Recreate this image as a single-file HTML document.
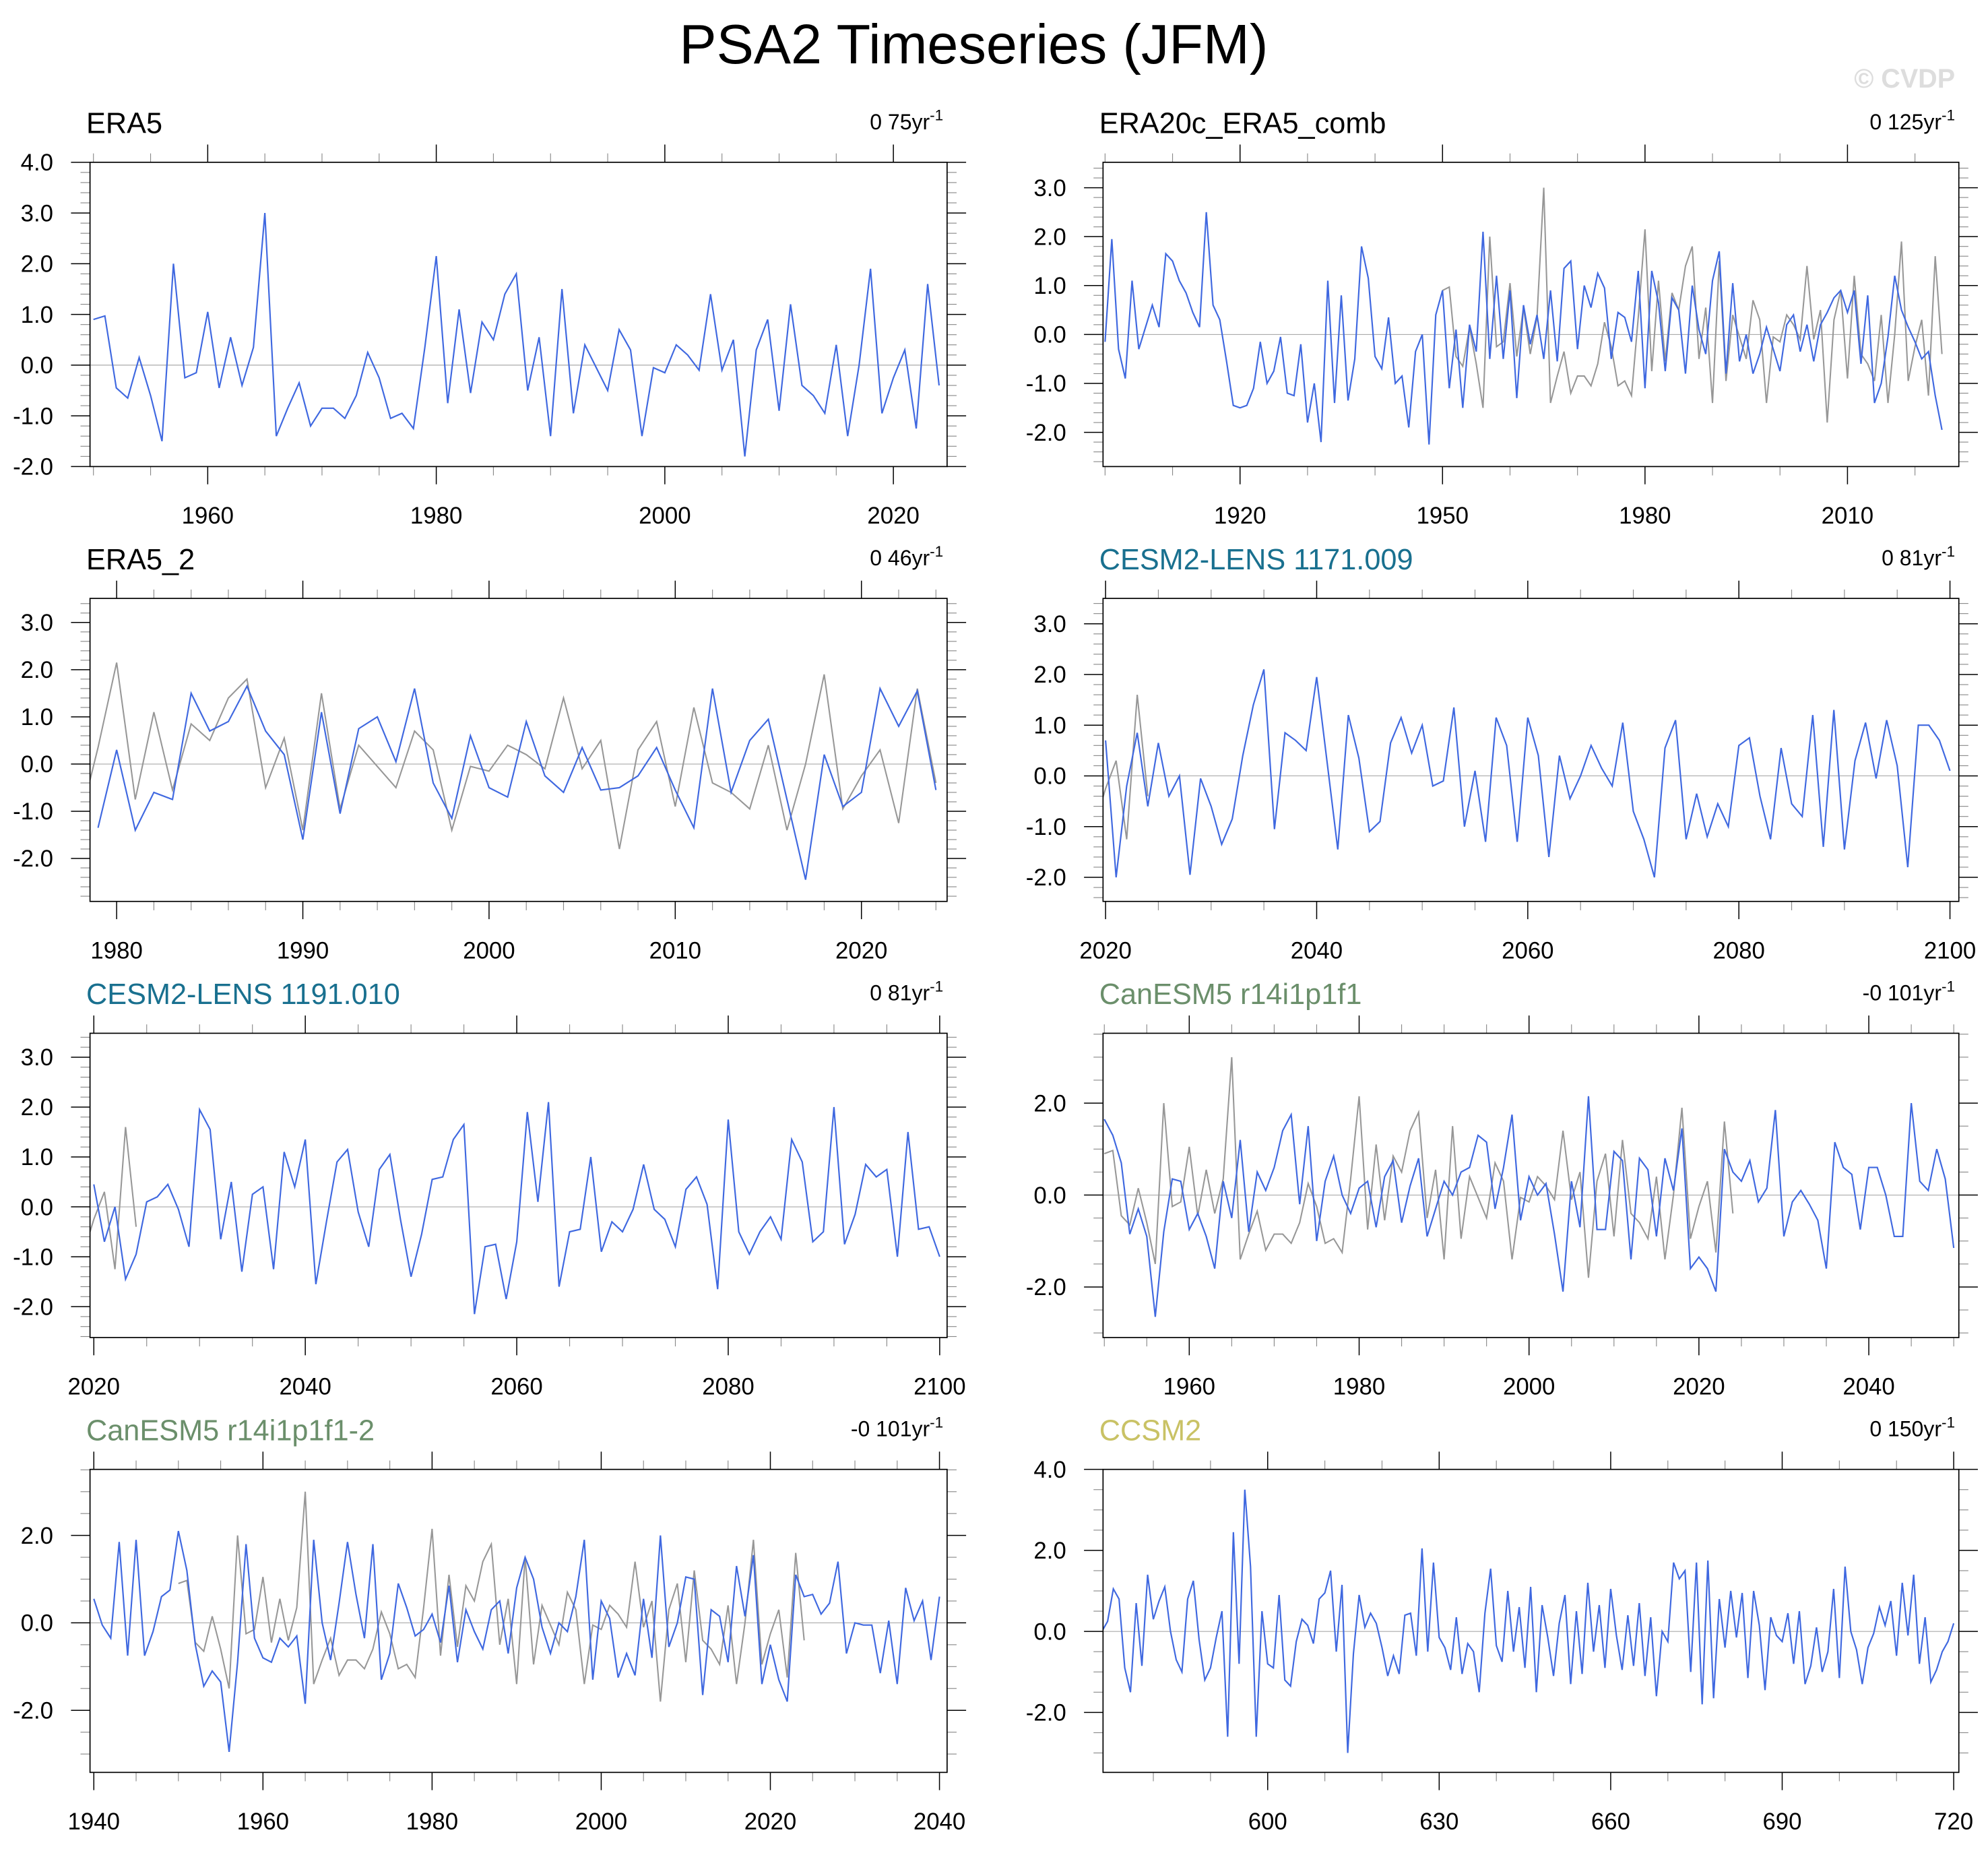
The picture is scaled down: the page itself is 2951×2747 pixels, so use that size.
<!DOCTYPE html>
<html><head><meta charset="utf-8">
<style>
html,body{margin:0;padding:0;background:#fff;}
svg{display:block;font-family:"Liberation Sans",Arial,sans-serif;}
</style></head>
<body>
<svg id="chart" xmlns="http://www.w3.org/2000/svg" width="2951" height="2747" viewBox="0 0 1568 1460" preserveAspectRatio="none">
<rect x="0" y="0" width="1568" height="1460" fill="#fff"/>
<text x="768" y="50" font-size="44" text-anchor="middle" fill="#000">PSA2 Timeseries (JFM)</text>
<text x="1542" y="69" font-size="21" font-weight="bold" text-anchor="end" fill="#ddd">© CVDP</text>
</svg>
<script>
// ---- data ----
const era5Start = 1950;
const era5 = [0.9,0.97,-0.45,-0.65,0.15,-0.6,-1.5,2.0,-0.25,-0.15,
1.05,-0.45,0.55,-0.4,0.35,3.0,-1.4,-0.85,-0.35,-1.2,
-0.85,-0.85,-1.05,-0.6,0.25,-0.25,-1.05,-0.95,-1.25,0.35,
2.15,-0.75,1.1,-0.55,0.85,0.5,1.4,1.8,-0.5,0.55,
-1.4,1.5,-0.95,0.4,-0.05,-0.5,0.7,0.3,-1.4,-0.05,
-0.15,0.4,0.2,-0.1,1.4,-0.1,0.5,-1.8,0.3,0.9,
-0.9,1.2,-0.4,-0.6,-0.95,0.4,-1.4,0.0,1.9,-0.95,
-0.25,0.3,-1.25,1.6,-0.4];

const era20cStart = 1900;
const era20c = [-0.15,1.95,-0.3,-0.9,1.1,-0.3,0.15,0.6,0.15,1.65,
1.5,1.1,0.85,0.45,0.15,2.5,0.6,0.3,-0.55,-1.45,
-1.5,-1.45,-1.1,-0.15,-1.0,-0.75,-0.05,-1.2,-1.25,-0.2,
-1.8,-1.0,-2.2,1.1,-1.4,0.8,-1.35,-0.5,1.8,1.15,
-0.45,-0.7,0.35,-1.0,-0.85,-1.9,-0.35,0.0,-2.25,0.4,
0.9,-1.1,0.1,-1.5,0.2,-0.35,2.1,-0.5,1.2,-0.5,
0.9,-1.3,0.6,-0.2,0.4,-0.5,0.9,-0.55,1.35,1.5,
-0.3,1.0,0.55,1.25,0.95,-0.5,0.45,0.35,-0.15,1.3,
-1.1,1.3,0.65,-0.75,0.75,0.5,-0.8,1.0,0.1,-0.4,
1.1,1.7,-0.8,1.05,-0.55,0.0,-0.8,-0.4,0.15,-0.3,
-0.75,0.2,0.4,-0.35,0.2,-0.55,0.2,0.45,0.75,0.9,
0.45,0.9,-0.6,0.8,-1.4,-1.0,-0.05,1.2,0.5,0.15,
-0.15,-0.5,-0.35,-1.25,-1.95];

const era5bStart = 1979;
const era5b = [-1.35,0.3,-1.4,-0.6,-0.75,1.5,0.7,0.9,1.65,0.7,
0.2,-1.6,1.1,-1.05,0.75,1.0,0.05,1.6,-0.4,-1.15,
0.6,-0.5,-0.7,0.9,-0.25,-0.6,0.35,-0.55,-0.5,-0.25,
0.35,-0.55,-1.35,1.6,-0.6,0.5,0.95,-0.75,-2.45,0.2,
-0.9,-0.6,1.6,0.8,1.55,-0.55];

const cesm009Start = 2020;
const cesm009 = [0.7,-2.0,-0.2,0.85,-0.6,0.65,-0.4,0.0,-1.95,-0.05,
-0.6,-1.35,-0.85,0.4,1.4,2.1,-1.05,0.85,0.7,0.5,
1.95,0.25,-1.45,1.2,0.35,-1.1,-0.9,0.65,1.15,0.45,
1.0,-0.2,-0.1,1.35,-1.0,0.1,-1.3,1.15,0.6,-1.3,
1.15,0.4,-1.6,0.4,-0.45,0.0,0.6,0.15,-0.2,1.05,
-0.7,-1.25,-2.0,0.55,1.1,-1.25,-0.35,-1.2,-0.55,-1.0,
0.6,0.75,-0.4,-1.25,0.55,-0.55,-0.8,1.2,-1.4,1.3,
-1.45,0.3,1.05,-0.05,1.1,0.2,-1.8,1.0,1.0,0.7,0.1];

const cesm010Start = 2020;
const cesm010 = [0.45,-0.7,0.0,-1.45,-0.95,0.1,0.2,0.45,-0.05,-0.8,
1.95,1.55,-0.65,0.5,-1.3,0.25,0.4,-1.25,1.1,0.4,
1.35,-1.55,-0.3,0.9,1.15,-0.1,-0.8,0.75,1.05,-0.25,
-1.4,-0.55,0.55,0.6,1.35,1.65,-2.15,-0.8,-0.75,-1.85,
-0.7,1.9,0.1,2.1,-1.6,-0.5,-0.45,1.0,-0.9,-0.3,
-0.5,-0.05,0.85,-0.05,-0.25,-0.8,0.35,0.6,0.05,-1.65,
1.75,-0.5,-0.95,-0.5,-0.2,-0.65,1.35,0.9,-0.7,-0.5,
2.0,-0.75,-0.15,0.85,0.6,0.75,-1.0,1.5,-0.45,-0.4,-1.0];

const canesmStart = 1950;
const canesm = [1.65,1.3,0.7,-0.85,-0.3,-0.9,-2.65,-0.8,0.35,0.3,
-0.75,-0.4,-0.9,-1.6,0.3,-0.5,1.2,-0.8,0.5,0.1,
0.6,1.4,1.75,-0.2,1.5,-1.0,0.3,0.85,0.0,-0.4,
0.15,0.3,-0.7,0.4,0.75,-0.6,0.2,0.8,-0.9,-0.3,
0.3,0.0,0.5,0.6,1.3,1.15,-0.3,0.6,1.75,-0.55,
0.4,0.0,0.25,-0.85,-2.1,0.3,-0.7,2.15,-0.75,-0.75,
0.95,0.75,-1.4,0.8,0.55,-0.9,0.8,0.1,1.45,-1.6,
-1.35,-1.6,-2.1,1.0,0.5,0.3,0.75,-0.15,0.15,1.85,
-0.9,-0.15,0.1,-0.2,-0.55,-1.6,1.15,0.6,0.45,-0.75,
0.6,0.6,0.0,-0.9,-0.9,2.0,0.3,0.1,1.0,0.35,-1.15];

const canesm2Start = 1940;
const canesm2 = [0.55,-0.05,-0.35,1.85,-0.75,1.9,-0.75,-0.2,0.6,0.75,
2.1,1.2,-0.5,-1.45,-1.1,-1.35,-2.95,-0.9,1.8,-0.35,
-0.8,-0.9,-0.35,-0.55,-0.3,-1.85,1.9,0.0,-0.85,0.45,
1.85,0.65,-0.35,1.8,-1.3,-0.7,0.9,0.35,-0.3,-0.15,
0.2,-0.45,0.85,-0.9,0.3,-0.2,-0.6,0.3,0.5,-0.7,
0.8,1.5,1.0,-0.1,-0.7,0.0,-0.2,0.6,1.9,-1.3,
0.5,0.1,-1.25,-0.7,-1.2,0.55,-0.8,2.0,-0.55,0.0,
1.05,1.0,-1.65,0.3,0.15,-0.9,1.3,0.15,1.55,-1.4,
-0.5,-1.3,-1.8,1.1,0.6,0.65,0.2,0.45,1.4,-0.7,
0.0,-0.05,-0.05,-1.15,0.05,-1.4,0.8,0.05,0.5,-0.85,0.6];

const ccsmStart = 571;
const ccsm = [0.0,0.25,1.05,0.8,-0.9,-1.5,0.7,-0.85,1.4,0.3,
0.75,1.1,0.0,-0.7,-1.0,0.8,1.25,-0.2,-1.2,-0.9,
-0.15,0.5,-2.6,2.45,-0.8,3.5,1.6,-2.6,0.5,-0.8,
-0.9,0.9,-1.2,-1.35,-0.25,0.3,0.15,-0.3,0.8,0.95,
1.5,-0.5,1.15,-3.0,-0.55,0.9,0.1,0.45,0.2,-0.4,
-1.1,-0.6,-1.05,0.4,0.45,-0.6,2.05,-0.5,1.7,-0.15,
-0.4,-0.95,0.35,-1.05,-0.3,-0.5,-1.5,0.45,1.55,-0.35,
-0.75,1.0,-0.5,0.6,-0.9,1.1,-1.5,0.65,-0.15,-1.1,
0.2,0.9,-1.3,0.5,-1.05,1.2,-0.5,0.65,-0.9,1.05,
-0.1,-0.95,0.4,-0.85,0.7,-1.1,0.35,-1.6,0.0,-0.25,
1.7,1.3,1.5,-1.0,1.7,-1.8,1.75,-1.65,0.8,-0.4,
1.0,-0.15,0.95,-1.15,1.0,0.15,-1.45,0.35,-0.1,-0.25,
0.45,-0.8,0.5,-1.3,-0.85,0.1,-1.0,-0.5,1.05,-1.15,
1.6,0.0,-0.45,-1.3,-0.4,-0.05,0.6,0.15,0.75,-0.6,
1.2,-0.1,1.4,-0.8,0.35,-1.25,-0.95,-0.5,-0.25,0.2];

const panelTitles = ["ERA5","ERA20c_ERA5_comb","ERA5_2","CESM2-LENS 1171.009","CESM2-LENS 1191.010","CanESM5 r14i1p1f1","CanESM5 r14i1p1f1-2","CCSM2"];
const trendLabels = ["0 75yr","0 125yr","0 46yr","0 81yr","0 81yr","-0 101yr","-0 101yr","0 150yr"];

// ---- layout (positions/styles, not data) ----
const LX0=71, LX1=747, RX0=870, RX1=1545;
const rows=[[128,368],[472,711],[815,1055],[1159,1398]];
const panels = [
 {name:"era5", x0:LX0,x1:LX1,row:0,xmin:1949.7,xmax:2024.7,ymin:-2,ymax:4,xMaj:20,xMin:5,yMaj:1,yMin:0.2,titleColor:"#000",
  blue:era5,blueStart:era5Start,gray:null},
 {name:"era20c", x0:RX0,x1:RX1,row:0,xmin:1899.7,xmax:2026.5,ymin:-2.70,ymax:3.52,xMaj:30,xMin:10,yMaj:1,yMin:0.2,titleColor:"#000",
  blue:era20c,blueStart:era20cStart,gray:era5},
 {name:"era5-2", x0:LX0,x1:LX1,row:1,xmin:1978.57,xmax:2024.6,ymin:-2.91,ymax:3.51,xMaj:10,xMin:2,yMaj:1,yMin:0.2,titleColor:"#000",
  blue:era5b,blueStart:era5bStart,gray:era5},
 {name:"cesm2-009", x0:RX0,x1:RX1,row:1,xmin:2019.76,xmax:2100.84,ymin:-2.475,ymax:3.5,xMaj:20,xMin:5,yMaj:1,yMin:0.2,titleColor:"#19708f",
  blue:cesm009,blueStart:cesm009Start,gray:era5},
 {name:"cesm2-010", x0:LX0,x1:LX1,row:2,xmin:2019.64,xmax:2100.7,ymin:-2.62,ymax:3.48,xMaj:20,xMin:5,yMaj:1,yMin:0.2,titleColor:"#19708f",
  blue:cesm010,blueStart:cesm010Start,gray:era5},
 {name:"canesm5", x0:RX0,x1:RX1,row:2,xmin:1949.85,xmax:2050.6,ymin:-3.10,ymax:3.52,xMaj:20,xMin:5,yMaj:2,yMin:0.5,titleColor:"#6b8f6b",
  blue:canesm,blueStart:canesmStart,gray:era5},
 {name:"canesm5-2", x0:LX0,x1:LX1,row:3,xmin:1939.55,xmax:2040.9,ymin:-3.42,ymax:3.51,xMaj:20,xMin:5,yMaj:2,yMin:0.5,titleColor:"#6b8f6b",
  blue:canesm2,blueStart:canesm2Start,gray:era5},
 {name:"ccsm2", x0:RX0,x1:RX1,row:3,xmin:571.2,xmax:720.9,ymin:-3.48,ymax:4.0,xMaj:30,xMin:10,yMaj:2,yMin:0.5,titleColor:"#c9c265",
  blue:ccsm,blueStart:ccsmStart,gray:null}
];

const NS="http://www.w3.org/2000/svg";
const svg=document.getElementById("chart");
function mk(tag, attrs, parent){
  const e=document.createElementNS(NS,tag);
  for(const k in attrs) e.setAttribute(k,attrs[k]);
  (parent||svg).appendChild(e);
  return e;
}

panels.forEach((p,i)=>{
  const y0=rows[p.row][0], y1=rows[p.row][1];
  const g=mk("g",{});
  
  
  const xs=v=>p.x0+(v-p.xmin)/(p.xmax-p.xmin)*(p.x1-p.x0);
  const ys=v=>y1-(v-p.ymin)/(p.ymax-p.ymin)*(y1-y0);
  const clipId="clip"+i;
  const cp=mk("clipPath",{id:clipId},g);
  mk("rect",{x:p.x0,y:y0,width:p.x1-p.x0,height:y1-y0},cp);

  // title & trend
  const t=mk("text",{x:p.x0-3,y:y0-23,"font-size":23,fill:p.titleColor},g);
  
  
  t.textContent=panelTitles[i];
  const tr=mk("text",{x:p.x1-3,y:y0-26,"font-size":17,"text-anchor":"end",fill:"#000"},g);
  
  
  tr.textContent=trendLabels[i];
  const sup=mk("tspan",{dy:-7,"font-size":12},tr);
  sup.textContent="-1";

  // y ticks
  const eps=1e-6;
  for(let v=Math.ceil((p.ymin-eps)/p.yMin)*p.yMin; v<=p.ymax+eps; v+=p.yMin){
    const vv=Math.round(v*1000)/1000;
    const isMaj=Math.abs(vv/p.yMaj-Math.round(vv/p.yMaj))<1e-6;
    const y=ys(vv), L=isMaj?15:7.5;
    const col=isMaj?"#000":"#888";
    const tl=mk("line",{x1:p.x0-L,x2:p.x0,y1:y,y2:y,stroke:col,"stroke-width":isMaj?0.8:0.6},g);
    
    
    const tr2=mk("line",{x1:p.x1,x2:p.x1+L,y1:y,y2:y,stroke:col,"stroke-width":isMaj?0.8:0.6},g);
    
    
    if(isMaj){
      const lb=mk("text",{x:p.x0-29,y:y+6.5,"font-size":18.5,"text-anchor":"end",fill:"#000"},g);
      
      
      lb.textContent=(Math.abs(vv)<1e-9?0:vv).toFixed(1);
    }
  }
  // x ticks
  for(let v=Math.ceil((p.xmin-eps)/p.xMin)*p.xMin; v<=p.xmax+eps; v+=p.xMin){
    const isMaj=Math.abs(v/p.xMaj-Math.round(v/p.xMaj))<1e-6;
    const x=xs(v), L=isMaj?14:7;
    const col=isMaj?"#000":"#888";
    const tb=mk("line",{x1:x,x2:x,y1:y1,y2:y1+L,stroke:col,"stroke-width":isMaj?0.8:0.6},g);
    
    
    const tt=mk("line",{x1:x,x2:x,y1:y0-L,y2:y0,stroke:col,"stroke-width":isMaj?0.8:0.6},g);
    
    
    if(isMaj){
      const lb=mk("text",{x:x,y:y1+45,"font-size":18.5,"text-anchor":"middle",fill:"#000"},g);
      
      
      lb.textContent=String(Math.round(v));
    }
  }
  // zero line
  const zl=mk("line",{x1:p.x0,x2:p.x1,y1:ys(0),y2:ys(0),stroke:"#aaa","stroke-width":0.6},g);
  
  

  // gray (ERA5 obs) series
  if(p.gray){
    const pts=p.gray.map((v,k)=>xs(era5Start+k).toFixed(2)+","+ys(v).toFixed(2)).join(" ");
    const gl=mk("polyline",{points:pts,fill:"none",stroke:"#979797","stroke-width":1.1,"clip-path":"url(#"+clipId+")"},g);
    
    
  }
  // blue series
  const bpts=p.blue.map((v,k)=>xs(p.blueStart+k).toFixed(2)+","+ys(v).toFixed(2)).join(" ");
  const bl=mk("polyline",{points:bpts,fill:"none",stroke:"#3f68e0","stroke-width":1.15,"clip-path":"url(#"+clipId+")"},g);
  
  

  // frame
  const fr=mk("rect",{x:p.x0,y:y0,width:p.x1-p.x0,height:y1-y0,fill:"none",stroke:"#000","stroke-width":0.9},g);
  
  
});
</script>
</body></html>
